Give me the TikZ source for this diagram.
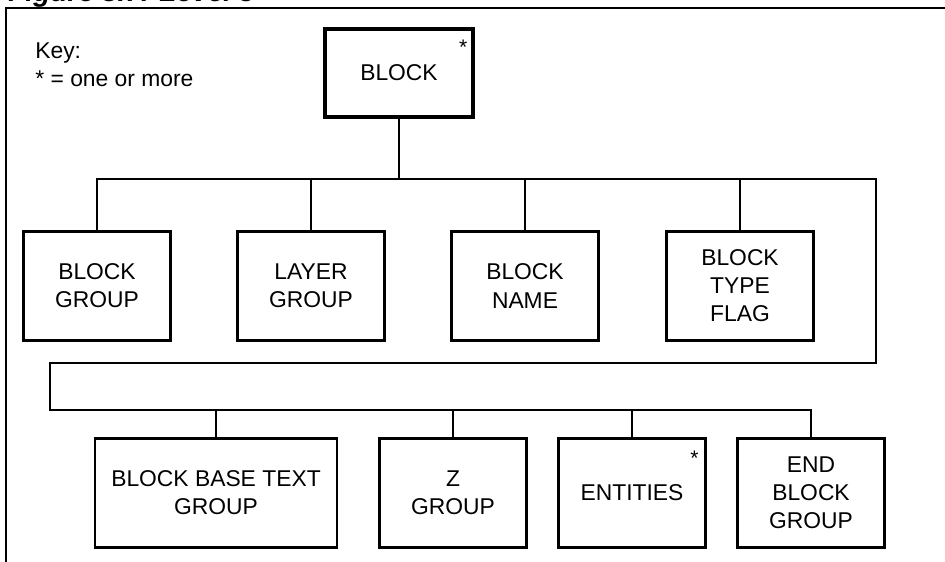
\documentclass[tikz,border=0pt]{standalone}
\usepackage{fontspec}
\setmainfont{Liberation Sans}
\usetikzlibrary{calc}

\tikzset{
  box/.style={draw, line width=1.2pt, minimum width=2.94cm, minimum height=2.18cm,
    align=center, font=\fontsize{13}{16}\selectfont, inner sep=2pt},
  widebox/.style={box, minimum width=4.84cm},
  topbox/.style={box, line width=2.6pt, minimum width=2.96cm, minimum height=1.76cm},
  starmark/.style={anchor=north, inner sep=0pt, font=\fontsize{12}{14}\selectfont},
  conn/.style={line width=1.1pt},
  frame/.style={line width=1.2pt}
}

\begin{document}
\begin{tikzpicture}[x=0.02cm, y=-0.02cm]
  \useasboundingbox (0,0) rectangle (945,561);

  % frame and title
  \draw[frame] (946,8) -- (6,8) -- (6,562);
  \node[anchor=base west, inner sep=0pt, font=\fontsize{16}{18}\selectfont\bfseries\itshape] (title) at (8,2) {Figure 8.7. Level 3};

  % key
  \node[anchor=north west, inner sep=0pt, align=left, font=\fontsize{13}{16}\selectfont] (key) at (35,42) {Key:\\* = one or more};

  % root
  \node[topbox] (blk) at (399,73) {BLOCK};
  \node[starmark] at ($(blk.north east)+(-12,13)$) {*};

  % first row
  \node[box] (bgrp)   at (97,286)  {BLOCK\\GROUP};
  \node[box] (lgrp)   at (311,286) {LAYER\\GROUP};
  \node[box] (bname)  at (525,286) {BLOCK\\NAME};
  \node[box] (btflag) at (740,286) {BLOCK\\TYPE\\FLAG};

  % second row
  \node[widebox] (bbtext) at (216,493) {BLOCK BASE TEXT\\GROUP};
  \node[box] (zgrp)   at (453,493) {Z\\GROUP};
  \node[box] (ents)   at (632,493) {ENTITIES};
  \node[starmark] at ($(ents.north east)+(-12,13)$) {*};
  \node[box] (endgrp) at (811,493) {END\\BLOCK\\GROUP};

  % bus points
  \coordinate (topbus) at (399,179);
  \coordinate (busR)   at (876,179);
  \coordinate (bendA)  at (876,363);
  \coordinate (bendB)  at (50,363);
  \coordinate (lowbus) at (50,410);

  % connectors
  \draw[conn] (blk.south) -- (topbus);
  \draw[conn] (bgrp.north) |- (busR) -- (bendA) -- (bendB) -- (lowbus) -| (endgrp.north);
  \foreach \n in {lgrp,bname,btflag}
    \draw[conn] (\n.north) -- (\n.north |- topbus);
  \foreach \n in {bbtext,zgrp,ents}
    \draw[conn] (\n.north) -- (\n.north |- lowbus);
\end{tikzpicture}
\end{document}
